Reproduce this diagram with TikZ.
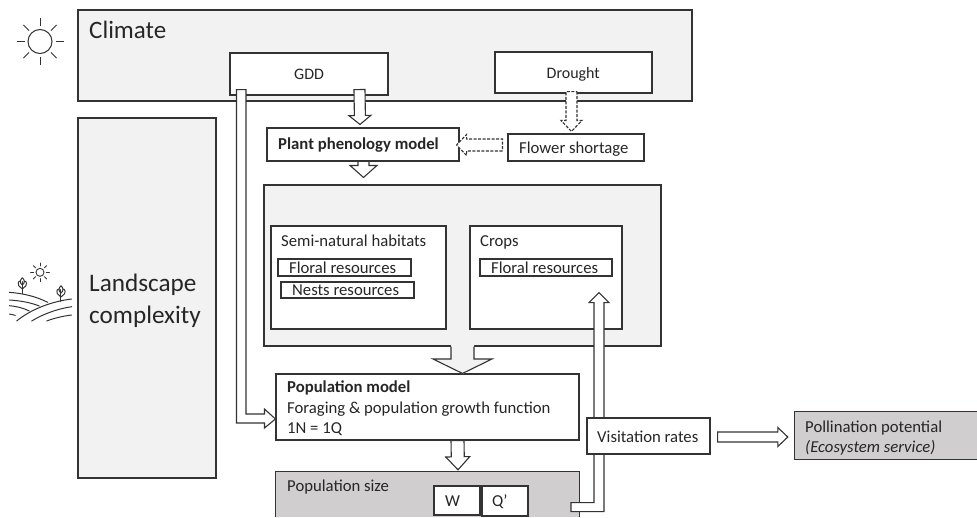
\documentclass[tikz,border=0pt]{standalone}
\usepackage{fontspec}
\setmainfont{Carlito}
\usetikzlibrary{calc,fit}
\definecolor{ink}{HTML}{333333}
\definecolor{txt}{HTML}{262626}
\definecolor{pale}{HTML}{F2F2F2}
\definecolor{greybox}{HTML}{D0CECE}
\tikzset{
  x=1pt,y=-1pt,
  ln/.style={draw=ink,line width=1.1pt},
  whitebox/.style={ln,fill=white},
  palebox/.style={ln,fill=pale},
  greyfill/.style={fill=greybox,draw=none},
  blk/.style={ln,fill=white,line join=miter},
  dsh/.style={blk,dash pattern=on 3pt off 1.5pt},
  lab/.style={anchor=base west,inner sep=0pt,text=txt},
  ray/.style={draw=ink,line width=1pt},
  icon/.style={draw=ink,line width=1pt,line cap=round,line join=round}
}
% box from corners
\newcommand{\bx}[6]{\node[#6,fit={(#2,#3)(#4,#5)},inner sep=0pt] (#1) {};}
% text at baseline-left
\newcommand{\tx}[5]{\node[lab,font=\fontsize{#4}{#4}\selectfont] (#1) at (#2,#3) {#5};}
% block arrow: [style]{from}{tip}{half shaft}{half head}{head length}
\newcommand{\blockarrow}[6][blk]{%
  \coordinate (S) at ($(#3)!#6pt!(#2)$);
  \draw[#1] ($(#2)!#4pt!90:(#3)$) -- ($(S)!#4pt!-90:(#2)$) -- ($(S)!#5pt!-90:(#2)$) -- (#3)
     -- ($(S)!#5pt!90:(#2)$) -- ($(S)!#4pt!90:(#2)$) -- ($(#2)!#4pt!-90:(#3)$) -- cycle;}
\begin{document}
\begin{tikzpicture}
\useasboundingbox (0,0) rectangle (977,517);
% sun
\node[ray,circle,minimum size=24pt,inner sep=0pt] (sun) at (40,41.5) {};
\foreach \a in {0,45,...,315}{\draw[ray] ($(sun.center)+(\a:15.5)$) -- ($(sun.center)+(\a:23.5)$);}
% large boxes
\bx{climate}{78}{10}{692}{101}{palebox}
\bx{land}{78}{118}{216}{478}{palebox}
\bx{gdd}{230}{53}{388}{95}{whitebox}
\bx{drought}{495}{52}{652}{93}{whitebox}
\tx{climateT}{89}{38}{25}{Climate}
\tx{landT}{89}{291}{25.2}{Landscape}
\tx{landT2}{89}{323}{25.2}{complexity}
\tx{gddT}{294}{79}{16}{GDD}
\tx{droughtT}{546.5}{78}{16}{Drought}
% middle group
\bx{hab}{264}{185}{661}{346}{palebox}
\bx{semi}{271}{226}{446}{329}{whitebox}
\bx{crops}{470}{226}{622}{329}{whitebox}
\bx{floralA}{278}{259}{411}{276}{whitebox}
\bx{nests}{281}{282}{414}{298}{whitebox}
\bx{floralB}{480}{259}{612}{276}{whitebox}
\tx{semiT}{281}{246}{16.7}{Semi-natural habitats}
\tx{cropsT}{480}{246}{16.7}{Crops}
\tx{floralAT}{289}{273}{16.7}{Floral resources}
\tx{nestsT}{292}{295}{16.7}{Nests resources}
\tx{floralBT}{491}{273}{16.7}{Floral resources}
% phenology -> habitats (behind phenology box)
\coordinate (phenOut) at ($(hab.north)+(-99,-24)$);
\coordinate (habIn) at ($(hab.north)+(-99,-7)$);
\blockarrow{phenOut}{habIn}{5.5}{13.5}{12}
% phenology and shortage
\bx{phen}{267}{128}{459}{161}{whitebox}
\bx{short}{508}{134}{644}{161}{whitebox}
\tx{phenT}{278}{149}{16.7}{\textbf{Plant phenology model}}
\tx{shortT}{519}{153}{16.7}{Flower shortage}
% GDD -> phenology
\coordinate (gddOut) at ($(gdd.south)+(50.5,-6)$);
\coordinate (phenIn) at ($(phen.north)+(-3,-3)$);
\blockarrow{gddOut}{phenIn}{5.5}{11}{9}
% Drought -> shortage (dashed)
\coordinate (drOut) at ($(drought.south)+(-2,-2)$);
\coordinate (shortIn) at ($(short.north)+(-4.5,-2)$);
\blockarrow[dsh]{drOut}{shortIn}{5.5}{10.5}{11}
% shortage -> phenology (dashed)
\coordinate (shortOut) at ($(short.west)+(-5,-2.5)$);
\coordinate (phenE) at ($(phen.east)+(-3,0.5)$);
\blockarrow[dsh]{shortOut}{phenE}{6}{10.5}{10}
% population model
\bx{popm}{276}{374}{579}{440}{whitebox}
\tx{popmA}{287}{392}{16.7}{\textbf{Population model}}
\tx{popmB}{287}{413}{16.7}{Foraging \& population growth function}
\tx{popmC}{287}{433}{16.7}{1N = 1Q}
% habitats -> population model
\fill[pale] (451,345) -- (451,359) -- (433,359) -- (462.5,374) -- (492,359) -- (474,359) -- (474,345) -- cycle;
\draw[ln] ($(hab.south)+(-11.5,0)$) -- (451,359) -- (433,359) -- ($(popm.north)+(35,0)$) -- (492,359) -- (474,359) -- ($(hab.south)+(11.5,0)$);
% GDD -> population model
\coordinate (gddBent) at ($(gdd.south west)+(12,-6)$);
\coordinate (popW) at ($(popm.west)+(0,12)$);
\draw[blk] ($(gddBent)+(-5,0)$) -- ($(gddBent)+(4.5,0)$) -- ($(popW)+(-29.5,-5)$) -- ($(popW)+(-11,-5)$) -- ($(popW)+(-11,-10)$)
  -- (popW) -- ($(popW)+(-11,9)$) -- ($(popW)+(-11,4)$) -- ($(popW)+(-39,4)$) -- cycle;
% population size (runs off the bottom edge)
\bx{pops}{276}{472}{579}{517}{greyfill}
\draw[ln] (pops.south west) -- (pops.north west) -- (pops.north east) -- (pops.south east);
\bx{w}{434}{486}{480}{515}{whitebox}
\bx{q}{482}{486}{528}{516}{whitebox}
\tx{popsT}{287}{491}{16.7}{Population size}
\tx{wT}{445}{506}{16.7}{W}
\tx{qT}{492}{506}{16.7}{Q’}
% population model -> size
\coordinate (popmOut) at ($(popm.south)+(30,0)$);
\coordinate (popsIn) at ($(pops.north)+(30.5,-2)$);
\blockarrow{popmOut}{popsIn}{6.5}{12}{13}
% visitation -> crops
\coordinate (cropsIn) at ($(crops.south)+(53,-37)$);
\draw[blk] ($(cropsIn)+(-5,10)$) -- ($(cropsIn)+(-10,10)$) -- (cropsIn) -- ($(cropsIn)+(10,10)$) -- ($(cropsIn)+(5,10)$)
  -- ($(cropsIn)+(5,219)$) -- ($(cropsIn)+(-28,219)$) -- ($(cropsIn)+(-28,210)$) -- ($(cropsIn)+(-5,210)$) -- cycle;
% visitation, pollination
\bx{visit}{587}{418}{710}{454}{whitebox}
\tx{visitT}{597}{442}{16.7}{Visitation rates}
\bx{poll}{795}{412}{977}{459}{greyfill}
\draw[ln] (poll.north east) -- (poll.north west) -- (poll.south west) -- (poll.south east);
\tx{pollA}{805}{432}{16.7}{Pollination potential}
\tx{pollB}{805}{452}{16.7}{\textit{(Ecosystem service)}}
\coordinate (visOut) at ($(visit.east)+(7,1)$);
\coordinate (pollIn) at ($(poll.west)+(-7,1.5)$);
\blockarrow{visOut}{pollIn}{5}{9.5}{10}
% landscape icon
\begin{scope}[shift={(0,240)},xscale=1/3,yscale=1/3]
  \node[icon,circle,minimum size=8pt,inner sep=0pt,line width=0.9pt] (isun) at (120,97) {};
  \foreach \a in {0,45,...,315}{\draw[icon,line width=0.9pt] ($(isun.center)+(\a:19)$) -- ($(isun.center)+(\a:28)$);}
  % hills
  \draw[icon] (28,157) .. controls (70,160) and (110,170) .. (143,187);
  \draw[icon] (28,180) .. controls (60,182) and (90,187) .. (118,198);
  \draw[icon] (28,197) .. controls (50,199) and (70,204) .. (88,213);
  \draw[icon] (28,222) -- (46,226);
  \draw[icon] (50,243) .. controls (90,210) and (150,185) .. (215,177);
  \draw[icon] (95,243) .. controls (130,222) and (170,207) .. (215,200);
  \draw[icon] (140,243) .. controls (160,235) and (190,228) .. (215,225);
  % trees
  \foreach \tx/\ty in {67/113,183/137}{
    \begin{scope}[shift={(\tx,\ty)}]
      \draw[icon] (0,0) .. controls (-8,8) and (-8,16) .. (0,22) .. controls (8,16) and (8,8) .. (0,0);
      \draw[icon] (-6,10) .. controls (-14,10) and (-13,22) .. (-11,24) -- (0,34) -- (11,24) .. controls (13,22) and (14,10) .. (6,10);
      \draw[icon] (0,12) -- (0,47);
    \end{scope}}
\end{scope}
\end{tikzpicture}
\end{document}
